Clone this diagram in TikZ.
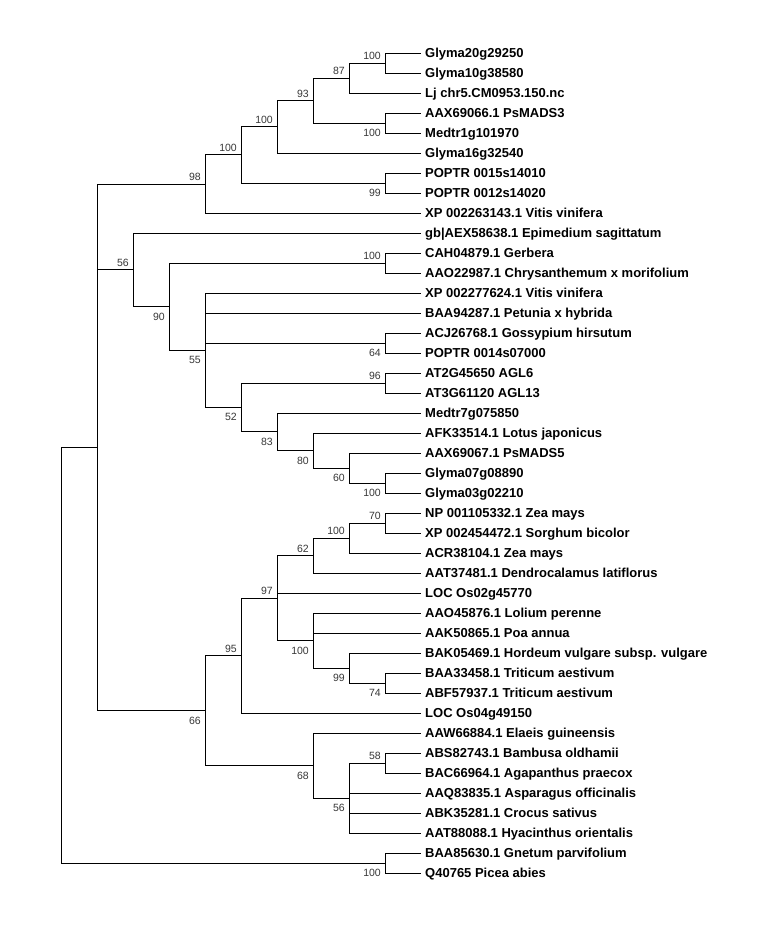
\documentclass[tikz,border=0pt]{standalone}
\usepackage{fontspec}
\setmainfont{Liberation Sans}
\begin{document}
\begin{tikzpicture}[x=1pt,y=-1pt,
  br/.style={draw=black,line width=1pt,line join=miter},
  leaflab/.style={anchor=base west,inner sep=0pt,font=\fontsize{13}{15}\selectfont\bfseries,text=black},
  bslab/.style={anchor=base east,inner sep=0pt,font=\fontsize{10.5}{12}\selectfont,text=black!78}]
\fill[white] (0,0) rectangle (756,945);
\useasboundingbox (0,0) rectangle (756,945);
\newcommand\leafnode[3]{\coordinate (#1) at (421,#2); \node[leaflab] (#1t) at (425,#2+4.7) {#3};}
\newcommand\innode[4]{\coordinate (#1) at (#2,#3);}
\newcommand\labup[4]{\coordinate (#1) at (#2,#3); \node[bslab] (#1l) at (#2-4,#3-3.5) {#4};}
\newcommand\labdn[4]{\coordinate (#1) at (#2,#3); \node[bslab] (#1l) at (#2-4,#3+13.5) {#4};}
% leaves
\leafnode{L1}{53}{Glyma20g29250}
\leafnode{L2}{73}{Glyma10g38580}
\leafnode{L3}{93}{Lj chr5.CM0953.150.nc}
\leafnode{L4}{113}{AAX69066.1 PsMADS3}
\leafnode{L5}{133}{Medtr1g101970}
\leafnode{L6}{153}{Glyma16g32540}
\leafnode{L7}{173}{POPTR 0015s14010}
\leafnode{L8}{193}{POPTR 0012s14020}
\leafnode{L9}{213}{XP 002263143.1 Vitis vinifera}
\leafnode{L10}{233}{gb|AEX58638.1 Epimedium sagittatum}
\leafnode{L11}{253}{CAH04879.1 Gerbera}
\leafnode{L12}{273}{AAO22987.1 Chrysanthemum x morifolium}
\leafnode{L13}{293}{XP 002277624.1 Vitis vinifera}
\leafnode{L14}{313}{BAA94287.1 Petunia x hybrida}
\leafnode{L15}{333}{ACJ26768.1 Gossypium hirsutum}
\leafnode{L16}{353}{POPTR 0014s07000}
\leafnode{L17}{373}{AT2G45650 AGL6}
\leafnode{L18}{393}{AT3G61120 AGL13}
\leafnode{L19}{413}{Medtr7g075850}
\leafnode{L20}{433}{AFK33514.1 Lotus japonicus}
\leafnode{L21}{453}{AAX69067.1 PsMADS5}
\leafnode{L22}{473}{Glyma07g08890}
\leafnode{L23}{493}{Glyma03g02210}
\leafnode{L24}{513}{NP 001105332.1 Zea mays}
\leafnode{L25}{533}{XP 002454472.1 Sorghum bicolor}
\leafnode{L26}{553}{ACR38104.1 Zea mays}
\leafnode{L27}{573}{AAT37481.1 Dendrocalamus latiflorus}
\leafnode{L28}{593}{LOC Os02g45770}
\leafnode{L29}{613}{AAO45876.1 Lolium perenne}
\leafnode{L30}{633}{AAK50865.1 Poa annua}
\leafnode{L31}{653}{BAK05469.1 Hordeum vulgare subsp. vulgare}
\leafnode{L32}{673}{BAA33458.1 Triticum aestivum}
\leafnode{L33}{693}{ABF57937.1 Triticum aestivum}
\leafnode{L34}{713}{LOC Os04g49150}
\leafnode{L35}{733}{AAW66884.1 Elaeis guineensis}
\leafnode{L36}{753}{ABS82743.1 Bambusa oldhamii}
\leafnode{L37}{773}{BAC66964.1 Agapanthus praecox}
\leafnode{L38}{793}{AAQ83835.1 Asparagus officinalis}
\leafnode{L39}{813}{ABK35281.1 Crocus sativus}
\leafnode{L40}{833}{AAT88088.1 Hyacinthus orientalis}
\leafnode{L41}{853}{BAA85630.1 Gnetum parvifolium}
\leafnode{L42}{873}{Q40765 Picea abies}
% internal nodes
\labup{a1}{385}{63}{100}
\labup{a2}{349}{78}{87}
\labdn{a3}{385}{123}{100}
\labup{a4}{313}{100.5}{93}
\labup{a5}{277}{126.75}{100}
\labdn{a6}{385}{183}{99}
\labup{a7}{241}{154.9}{100}
\labup{a8}{205}{184}{98}
\labup{b1}{385}{263}{100}
\labdn{b2}{385}{343}{64}
\labup{b3}{385}{383}{96}
\labdn{b4}{385}{483}{100}
\labdn{b5}{349}{468}{60}
\labdn{b6}{313}{450.5}{80}
\labdn{b7}{277}{431.75}{83}
\labdn{b8}{241}{407.4}{52}
\labdn{b9}{205}{350.2}{55}
\labdn{b10}{169}{306.6}{90}
\labup{b11}{133}{269.8}{56}
\labup{c1}{385}{523}{70}
\labup{c2}{349}{538}{100}
\labup{c3}{313}{555.5}{62}
\labdn{c4}{385}{683}{74}
\labdn{c5}{349}{668}{99}
\labdn{c6}{313}{640.5}{100}
\labup{c7}{277}{598}{97}
\labup{c8}{241}{655.5}{95}
\labup{c9}{385}{763}{58}
\labdn{c10}{349}{798}{56}
\labdn{c11}{313}{765.5}{68}
\labdn{c12}{205}{710.5}{66}
\innode{d1}{97}{447.25}{}
\labdn{d2}{385}{863}{100}
\innode{root}{61}{655}{}
% branches
\foreach \p/\c in {a1/L1,a1/L2,a2/a1,a2/L3,a3/L4,a3/L5,a4/a2,a4/a3,a5/a4,a5/L6,
  a6/L7,a6/L8,a7/a5,a7/a6,a8/a7,a8/L9,
  b1/L11,b1/L12,b2/L15,b2/L16,b3/L17,b3/L18,b4/L22,b4/L23,b5/L21,b5/b4,
  b6/L20,b6/b5,b7/L19,b7/b6,b8/b3,b8/b7,b9/L13,b9/L14,b9/b2,b9/b8,
  b10/b1,b10/b9,b11/L10,b11/b10,
  c1/L24,c1/L25,c2/c1,c2/L26,c3/c2,c3/L27,c4/L32,c4/L33,c5/L31,c5/c4,
  c6/L29,c6/L30,c6/c5,c7/c3,c7/L28,c7/c6,c8/c7,c8/L34,
  c9/L36,c9/L37,c10/c9,c10/L38,c10/L39,c10/L40,c11/L35,c11/c10,c12/c8,c12/c11,
  d1/a8,d1/b11,d1/c12,d2/L41,d2/L42,root/d1,root/d2}
  \draw[br] (\p) |- (\c);
\end{tikzpicture}
\end{document}
